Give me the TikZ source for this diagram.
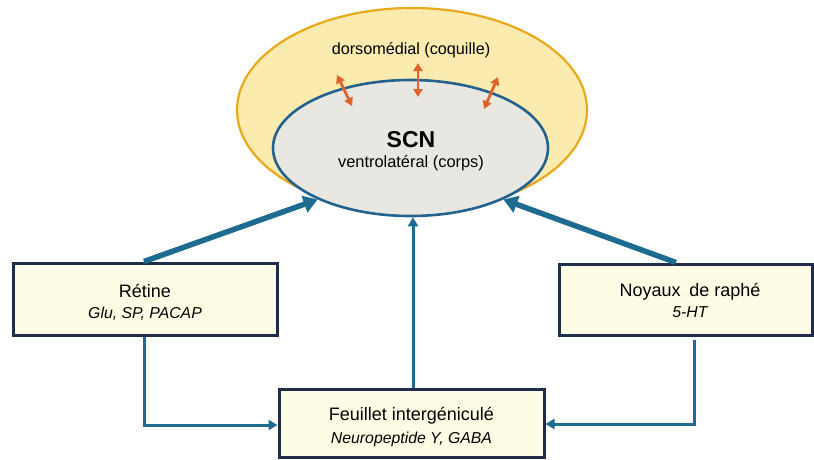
\documentclass[tikz,border=0pt]{standalone}
\usepackage{fontspec}
\setmainfont{Liberation Sans}
\usetikzlibrary{arrows.meta,shapes.geometric}
\definecolor{shellfill}{HTML}{FCEBAF}
\definecolor{shelldraw}{HTML}{E9A91A}
\definecolor{corefill}{HTML}{E9E7E1}
\definecolor{coredraw}{HTML}{23628E}
\definecolor{arrowblue}{HTML}{1D6C90}
\definecolor{boxfill}{HTML}{FEFCE4}
\definecolor{boxdraw}{HTML}{1E2D4A}
\definecolor{orangearr}{HTML}{E0622A}
\begin{document}
\begin{tikzpicture}[x=1pt,y=-1pt,
  shell/.style={ellipse,draw=shelldraw,fill=shellfill,line width=2.2pt,inner sep=0pt,
    minimum width=350pt,minimum height=204pt},
  core/.style={ellipse,draw=coredraw,fill=corefill,line width=2.6pt,inner sep=0pt,
    minimum width=275pt,minimum height=136pt},
  box/.style={rectangle,draw=boxdraw,fill=boxfill,line width=3pt,inner sep=0pt},
  title/.style={anchor=base,inner sep=0pt,font=\fontsize{18}{21}\selectfont},
  sub/.style={anchor=base,inner sep=0pt,font=\fontsize{15.8}{18}\selectfont\itshape},
  thickarr/.style={draw=arrowblue,line width=5.5pt,-{Triangle[length=14pt,width=17pt]}},
  thinarr/.style={draw=arrowblue,line width=3pt,-{Triangle[length=9pt,width=10pt]}},
  orarr/.style={draw=orangearr,line width=2.8pt,{Triangle[length=8pt,width=9pt]}-{Triangle[length=8pt,width=9pt]}}
]
\useasboundingbox (0,0) rectangle (814,459);

% ellipses
\node[shell] (shell) at (412,110) {};
\node[core] (scn) at (410.5,148) {};

\node[anchor=base,inner sep=0pt,font=\fontsize{16.2}{19}\selectfont] (dorso) at (411,54) {dorsomédial (coquille)};
\node[anchor=base,inner sep=0pt,font=\fontsize{23}{26}\selectfont\bfseries] (scnlab) at (411,147) {SCN};
\node[anchor=base,inner sep=0pt,font=\fontsize{16.4}{19}\selectfont] (ventro) at (411,167) {ventrolatéral (corps)};

% orange double arrows
\coordinate (a1) at (337,75);  \coordinate (b1) at (352,106);
\coordinate (a2) at (418,63);  \coordinate (b2) at (418,97);
\coordinate (a3) at (498,77);  \coordinate (b3) at (484,109);
\draw[orarr] (a1) -- (b1);
\draw[orarr] (a2) -- (b2);
\draw[orarr] (a3) -- (b3);

% boxes
\node[box,minimum width=264pt,minimum height=72pt] (retine) at (145,299) {};
\node[title] (retineT) at (145,297) {Rétine};
\node[sub] (retineS) at (145,318) {Glu, SP, PACAP};

\node[box,minimum width=253pt,minimum height=71pt] (noyaux) at (685.5,299.5) {};
\node[title] (noyauxT) at (690,296) {Noyaux\hspace{0.2em} de raphé};
\node[sub] (noyauxS) at (690,317) {5-HT};

\node[box,minimum width=265pt,minimum height=68pt] (feuillet) at (411.5,423) {};
\node[title] (feuilletT) at (411.5,420) {Feuillet intergéniculé};
\node[sub] (feuilletS) at (411.5,443) {Neuropeptide Y, GABA};

% connectors
\draw[thickarr] ([xshift=-1pt]retine.north) -- (scn.209);
\draw[thickarr] ([xshift=-9.5pt]noyaux.north) -- (scn.331.5);
\draw[thinarr] ([xshift=1.5pt]feuillet.north) -- ([xshift=2.5pt]scn.south);
\draw[thinarr] ([xshift=-1pt]retine.south) |- ([yshift=-2pt]feuillet.west);
\draw[thinarr] ([xshift=8.5pt,yshift=-3pt]noyaux.south) |- ([yshift=-1pt]feuillet.east);
\end{tikzpicture}
\end{document}
